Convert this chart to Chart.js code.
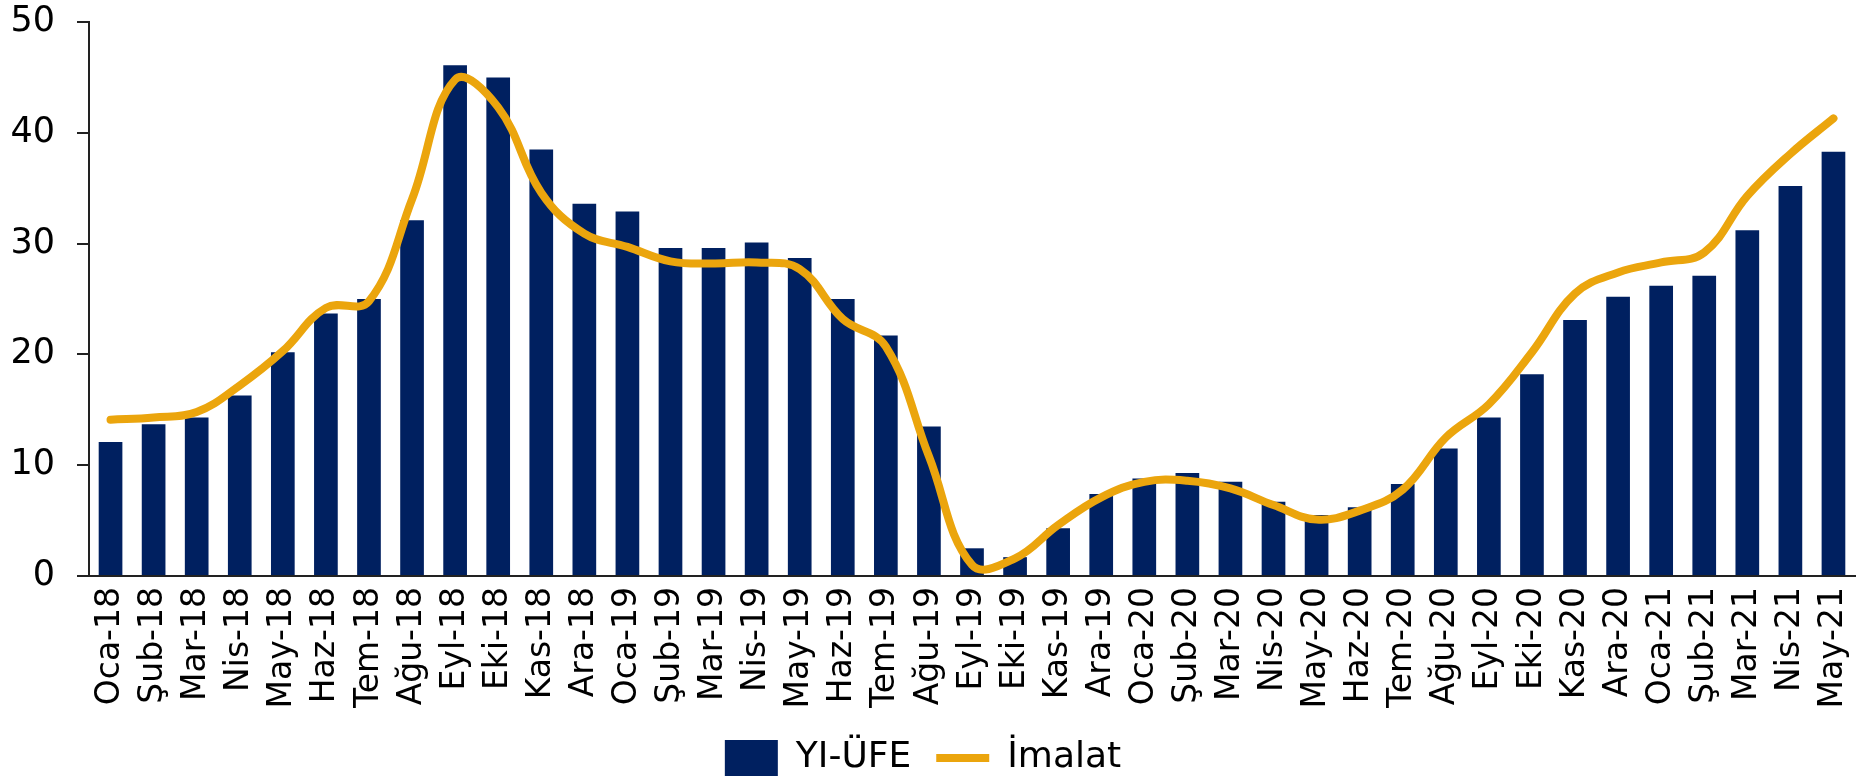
<!DOCTYPE html>
<html lang="tr">
<head>
<meta charset="utf-8">
<title>YI-ÜFE ve İmalat</title>
<script src="https://cdn.jsdelivr.net/npm/chart.js@4.4.1/dist/chart.umd.min.js"></script>
<style>
  html, body { margin: 0; padding: 0; background: #fff; }
  #wrap { width: 1868px; height: 780px; position: relative; }
</style>
</head>
<body>
<div id="wrap"><canvas id="chart"></canvas></div>
<script>
  // aylar (Oca-18 .. May-21)
  const months = [
    "Oca-18", "Şub-18", "Mar-18", "Nis-18", "May-18", "Haz-18", "Tem-18", "Ağu-18", "Eyl-18", "Eki-18", "Kas-18", "Ara-18",
    "Oca-19", "Şub-19", "Mar-19", "Nis-19", "May-19", "Haz-19", "Tem-19", "Ağu-19", "Eyl-19", "Eki-19", "Kas-19", "Ara-19",
    "Oca-20", "Şub-20", "Mar-20", "Nis-20", "May-20", "Haz-20", "Tem-20", "Ağu-20", "Eyl-20", "Eki-20", "Kas-20", "Ara-20",
    "Oca-21", "Şub-21", "Mar-21", "Nis-21", "May-21"
  ];

  // YI-ÜFE yıllık değişim (%)
  const yiUfe = [
    12.1, 13.7, 14.3, 16.3, 20.2, 23.7, 25.0, 32.1, 46.1, 45.0, 38.5, 33.6,
    32.9, 29.6, 29.6, 30.1, 28.7, 25.0, 21.7, 13.5, 2.5, 1.7, 4.3, 7.4,
    8.8, 9.3, 8.5, 6.7, 5.5, 6.2, 8.3, 11.5, 14.3, 18.2, 23.1, 25.2,
    26.2, 27.1, 31.2, 35.2, 38.3
  ];

  // İmalat sanayi yıllık değişim (%)
  const imalat = [
    14.1, 14.3, 14.8, 17.2, 20.3, 24.2, 24.8, 34.0, 44.8, 42.3, 34.6, 30.9,
    29.7, 28.4, 28.2, 28.3, 27.7, 23.2, 20.7, 10.8, 1.0, 1.6, 4.6, 7.1,
    8.5, 8.6, 7.9, 6.4, 5.1, 5.9, 7.8, 12.5, 15.5, 20.2, 25.5, 27.4,
    28.3, 29.2, 34.3, 38.1, 41.3
  ];

  const yTicks = [0, 10, 20, 30, 40, 50];

  const NAVY = "#002060";
  const GOLD = "#EBA50D";
  const FONT = "'DejaVu Sans', Verdana, sans-serif";

  // legend'i referanstaki yerine oturt
  const legendNudge = {
    id: "legendNudge",
    afterLayout(chart) {
      const lg = chart.legend;
      if (!lg) return;
      lg.left -= 10; lg.right -= 10;
      lg.top += 6; lg.bottom += 6;
    }
  };

  new Chart(document.getElementById("chart"), {
    type: "bar",
    data: {
      labels: months,
      datasets: [
        {
          label: "YI-ÜFE",
          data: yiUfe,
          backgroundColor: NAVY,
          borderWidth: 0,
          barPercentage: 0.55,
          categoryPercentage: 1,
          pointStyle: "rect",
          order: 2
        },
        {
          type: "line",
          label: "İmalat",
          data: imalat,
          borderColor: GOLD,
          backgroundColor: GOLD,
          borderWidth: 8,
          borderCapStyle: "round",
          borderJoinStyle: "round",
          pointRadius: 0,
          pointHoverRadius: 0,
          pointStyle: "line",
          tension: 0.4,
          fill: false,
          order: 1
        }
      ]
    },
    options: {
      responsive: true,
      maintainAspectRatio: false,
      animation: false,
      devicePixelRatio: 1,
      layout: { padding: { left: 11, right: 13, top: 22, bottom: 0 } },
      plugins: {
        tooltip: { enabled: false },
        legend: {
          position: "bottom",
          labels: {
            font: { family: FONT, size: 36 },
            color: "#000",
            usePointStyle: true,
            pointStyleWidth: 53,
            boxHeight: 40,
            padding: 25,
            sort: (a, b) => a.datasetIndex - b.datasetIndex
          }
        }
      },
      scales: {
        x: {
          offset: true,
          grid: { display: false },
          border: { display: true, color: "#222", width: 2 },
          ticks: {
            autoSkip: false,
            maxRotation: 90,
            minRotation: 90,
            padding: 3,
            color: "#000",
            font: { family: FONT, size: 33 }
          },
          afterFit(axis) {
            // döndürülmüş etiketlerin eklediği yan boşlukları kaldır
            axis.paddingLeft = 0;
            axis.paddingRight = 0;
            axis.height = 133;
          }
        },
        y: {
          min: 0,
          max: 50,
          afterBuildTicks: (axis) => { axis.ticks = yTicks.map(v => ({ value: v })); },
          grid: { drawOnChartArea: false, drawTicks: true, tickLength: 12, color: "#222", lineWidth: 2 },
          border: { display: true, color: "#222", width: 2 },
          ticks: {
            padding: 22,
            color: "#000",
            font: { family: FONT, size: 35 }
          },
          afterFit(axis) {
            axis.width = 78;
            axis.paddingTop = 0;
            axis.paddingBottom = 0;
          }
        }
      }
    },
    plugins: [legendNudge]
  });
</script>
</body>
</html>
